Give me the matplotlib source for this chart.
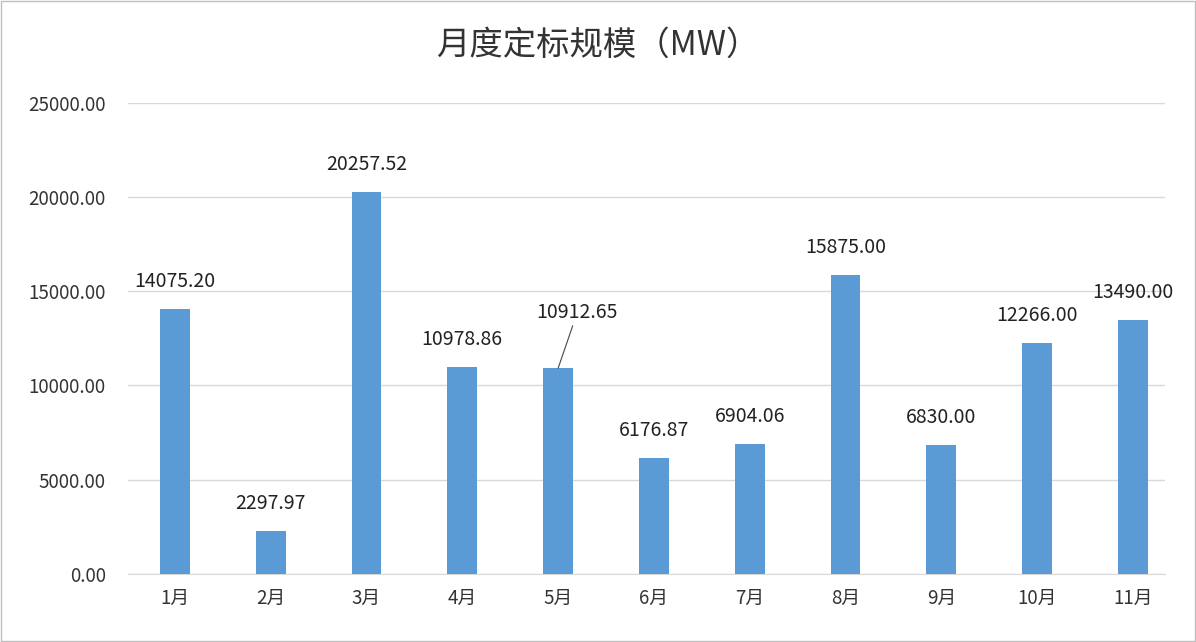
import matplotlib.pyplot as plt

plt.rcParams['font.family'] = ['Noto Sans CJK SC', 'DejaVu Sans']

months = ['1月', '2月', '3月', '4月', '5月', '6月', '7月', '8月', '9月', '10月', '11月']
values = [14075.20, 2297.97, 20257.52, 10978.86, 10912.65, 6176.87, 6904.06,
          15875.00, 6830.00, 12266.00, 13490.00]

fig = plt.figure(figsize=(11.96, 6.42), dpi=100)
ax = fig.add_axes([0.107, 0.106, 0.867, 0.734])

x = range(len(months))
ax.bar(x, values, width=0.31, color='#5B9BD5', zorder=3)

for i, v in enumerate(values):
    if i == 4:
        # label shifted with leader line, as in the original
        ax.annotate(f'{v:.2f}', xy=(i, v), xytext=(i + 0.2, v + 2400),
                    ha='center', va='bottom', fontsize=14, color='#222222',
                    arrowprops=dict(arrowstyle='-', color='#444444', lw=0.8,
                                    shrinkA=0, shrinkB=0))
    else:
        ax.text(i, v + 900, f'{v:.2f}', ha='center', va='bottom',
                fontsize=14, color='#222222')

ax.set_ylim(0, 25000)
ax.set_xlim(-0.49, len(months) - 0.666)
ax.set_yticks(range(0, 25001, 5000))
ax.set_yticklabels([f'{t:.2f}' for t in range(0, 25001, 5000)])
ax.set_xticks(list(x))
ax.set_xticklabels(months)
ax.tick_params(axis='both', length=0, labelsize=13.5, colors='#333333')
ax.tick_params(axis='x', pad=10)
ax.tick_params(axis='y', pad=16)
ax.yaxis.grid(True, color='#D9D9D9', lw=1, zorder=0)
for s in ['top', 'right', 'left']:
    ax.spines[s].set_visible(False)
ax.spines['bottom'].set_color('#D9D9D9')

fig.text(0.5, 0.93, '月度定标规模（MW）', ha='center', va='center',
         fontsize=24, color='#333333')
fig.patches.append(plt.Rectangle((0.001, 0.001), 0.998, 0.998, transform=fig.transFigure,
                                 fill=False, edgecolor='#BFBFBF', lw=1))

fig.savefig('out.png', dpi=100)
